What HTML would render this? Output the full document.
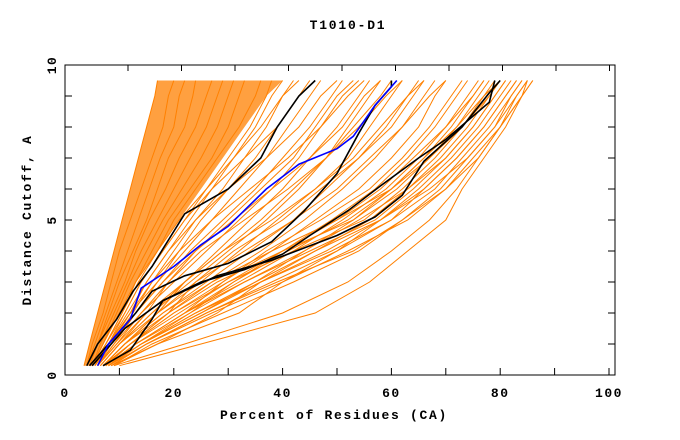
<!DOCTYPE html>
<html><head><meta charset="utf-8"><style>
body{margin:0;background:#fff;}
svg{display:block;font-family:"Liberation Mono",monospace;}
</style></head><body>
<svg id="chart" width="680" height="440" viewBox="0 0 680 440">
<rect x="0" y="0" width="680" height="440" fill="#fff"/>
<text x="348" y="29" text-anchor="middle" font-size="13" font-weight="bold" letter-spacing="1.8">T1010-D1</text>
<g id="marks"></g>
<g id="axes"></g>
<text x="334" y="419" text-anchor="middle" font-size="13" font-weight="bold" letter-spacing="1.7">Percent of Residues (CA)</text>
<text transform="translate(31,220) rotate(-90)" text-anchor="middle" font-size="13" font-weight="bold" letter-spacing="1.7">Distance Cutoff, A</text>
</svg>
<script>
const levels=[0.3,1,2,3,4,5,6,7,8,9,9.5];
const bandLeft=[3.5,4.5,6,7.5,9,10.5,12,13.5,15,16.5,17];
const bandRight=[5,7,10,13,17,21,25,29,33,37,40];
const orangeCurves=[
[3.5,4.5,6,7.5,9,10.5,12,13.5,15,16.5,17],
[4,5,7,8.5,10,12,14,16,18,19,20],
[4,5.5,7.5,9.5,11.5,13.5,15.5,17.5,20,21,22],
[4.5,6,8,10,12.5,15,17,19,22,23.5,24],
[4.5,6,8.5,11,13,15.5,18.5,21,24,26,27],
[5,6.5,9,11.5,14,17,20,23,26,28,29],
[5,7,9.5,12,15,18,21.5,25,28,30,31],
[5,7,10,13,16,19,23,27,30,32,33],
[5.5,7.5,10.5,13.5,17,20,24,28,32,35,36],
[5.5,8,11,14,18,22,26,30,34,37,38],
[6,8,11.5,15,19,23,27,31,35,38,40],
[6,8.5,12,16,20,24,29,33,37,40,42],
[5,8,12,17,22,27,32,37,41,45,47],
[5.5,8.5,13,18,23,29,35,40,45,49,51],
[6,9,14,20,26,32,38,43,47,52,55],
[6,9.5,15,22,28,34,40,45,50,54,56],
[6.5,10,16,23,30,37,43,48,53,58,60],
[6.5,10,17,25,32,39,46,52,56,60,62],
[7,11,18,26,34,42,48,54,59,63,65],
[7,11,19,27,36,44,51,57,62,66,68],
[7,12,20,29,38,46,54,60,65,68,70],
[7,12,21,30,40,49,57,63,68,72,74],
[7.5,13,22,32,42,51,59,65,70,74,76],
[7.5,13,23,33,44,53,61,67,72,76,78],
[8,14,24,35,46,56,63,69,74,78,80],
[8,14,25,36,48,58,65,71,76,80,82],
[8,15,26,38,50,60,68,73,78,82,84],
[8.5,15,27,40,52,63,70,75,80,84,86],
[9,16,29,42,54,62,70,76,80,84,85],
[8.5,17,32,40,50,58,67,74,79,83,85],
[10,25,46,56,63,70,73,77,81,84,86],
[9,22,40,52,60,67,72,76,80,83,85],
[6,9,13,17,21,25,30,35,39,43,45],
[6.5,10,15,19,24,30,36,42,46,50,53],
[7,11,17,22,29,36,42,48,52,56,58],
[7.5,12,19,24,31,40,47,54,60,64,66],
[8,13,22,29,37,47,56,62,67,71,73],
[8,14,23,31,40,50,60,66,72,77,79],
[9,17,28,36,46,58,66,72,77,81,83],
[7,11,18,27,38,50,58,64,70,75,77],
[7.5,12,20,30,42,55,62,68,73,77,80],
[8,13,22,33,45,57,64,70,75,79,81],
[8,14,24,36,49,60,66,72,77,81,83],
[8.5,15,26,39,53,62,69,74,79,82,84],
[7,12,19,28,40,53,60,67,73,78,80],
[7,11,17,24,33,42,50,56,62,67,70],
[6.5,10,16,22,29,38,46,53,58,63,66],
[6,9.5,14,19,25,33,41,48,54,59,62],
[6,9,13,18,24,31,38,45,51,55,58],
[5.5,8.5,12.5,16,21,27,34,41,47,51,54],
[5.5,8,12,15,19,24,30,37,43,47,50],
[5,7.5,11,14,18,22,27,33,39,43,46],
[5,7.5,10.5,13,17,21,26,31,36,40,43],
[7.5,13,22,31,41,52,60,66,71,75,77],
[8,14,25,35,44,54,63,70,75,79,81]
];
const blackCurves=[
{x:[4,6,9.5,12.5,16,22,30,36,39,43,46],y:[0.3,1,1.8,2.7,3.5,5.2,6,7,8,9,9.5]},
{x:[4.5,9,13,16,22,30,38,44,50,54,57,60,60],y:[0.3,1.2,2,2.7,3.2,3.6,4.3,5.3,6.5,7.8,8.7,9.3,9.5]},
{x:[5,11,18,28,38,44,50,57,62,66,73,78,80],y:[0.3,1.5,2.4,3.2,3.7,4.1,4.5,5.1,5.8,6.9,8,9.1,9.5]},
{x:[7,12,16,18,25,33,40,45,52,58,65,70,78,79],y:[0.3,0.8,1.8,2.4,3,3.4,3.9,4.5,5.3,6.1,7,7.6,8.8,9.5]}
];
const blueX=[6,8,12,14,20,25,30,37,43,50,53,57,61];
const blueY=[0.3,1,1.8,2.8,3.5,4.2,4.8,6,6.8,7.3,7.7,8.7,9.5];
const xTicks=[0,20,40,60,80,100];
const yTicks=[0,5,10];

const X0=65,XR=615,YT=65,YB=375;
const sx=v=>X0+v*5.44;
const sy=v=>YB-v*(YB-YT)/10;
const NS="http://www.w3.org/2000/svg";
const marks=document.getElementById('marks');
const axes=document.getElementById('axes');
function mk(tag,attrs,parent){const e=document.createElementNS(NS,tag);for(const k in attrs)e.setAttribute(k,attrs[k]);parent.appendChild(e);return e;}
function pts(xs,ys){return xs.map((v,i)=>sx(v).toFixed(1)+','+sy(ys[i]).toFixed(1)).join(' ');}

const band=mk('polygon',{points:pts(bandLeft.concat(bandRight.slice().reverse()),levels.concat(levels.slice().reverse())),fill:'#ff8000','fill-opacity':'0.75',stroke:'none'},marks);


orangeCurves.forEach(c=>{
  const l=mk('polyline',{points:pts(c,levels),fill:'none',stroke:'#ff8000','stroke-width':'1'},marks);
  
  
});
blackCurves.forEach(c=>{
  const l=mk('polyline',{points:pts(c.x,c.y),fill:'none',stroke:'#000','stroke-width':'1.6'},marks);
  
  
});
const bl=mk('polyline',{points:pts(blueX,blueY),fill:'none',stroke:'#0000ff','stroke-width':'1.6'},marks);



const frame=mk('rect',{x:X0,y:YT,width:XR-X0,height:YB-YT,fill:'none',stroke:'#000','stroke-width':'1'},axes);


for(let v=0;v<=100;v+=10){
  const t=mk('line',{x1:sx(v),x2:sx(v),y1:YB,y2:YB-7,stroke:'#000'},axes);
  
  
}
for(let i=0;i<10;i++){
  const px=128+i*53.5;
  const t=mk('line',{x1:px,x2:px,y1:YT,y2:YT+6,stroke:'#000'},axes);
  
  
}
for(let v=0;v<=10;v++){
  const a=mk('line',{x1:X0,x2:X0+7,y1:sy(v),y2:sy(v),stroke:'#000'},axes);
  
  
  const b=mk('line',{x1:XR,x2:XR-7,y1:sy(v),y2:sy(v),stroke:'#000'},axes);
  
  
}
xTicks.forEach(v=>{
  const t=mk('text',{x:sx(v),y:YB+22,'text-anchor':'middle','font-size':'13','font-weight':'bold','letter-spacing':'1.5'},axes);
  t.textContent=v;
  
  
});
yTicks.forEach(v=>{
  const t=mk('text',{transform:`translate(${X0-9},${sy(v)}) rotate(-90)`,'text-anchor':'middle','font-size':'13','font-weight':'bold','letter-spacing':'1.5'},axes);
  t.textContent=v;
  
  
});
</script>
</body></html>
